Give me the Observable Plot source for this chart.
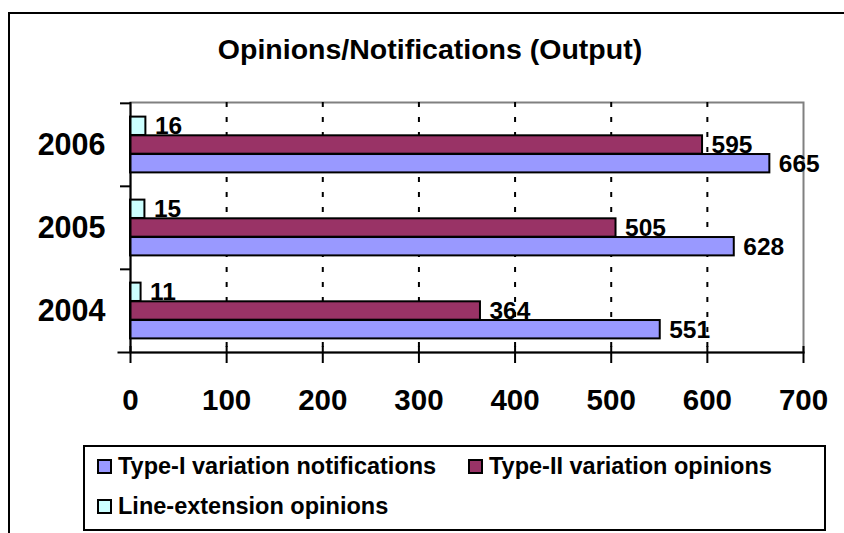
<!DOCTYPE html>
<html>
<head>
<meta charset="utf-8">
<script src="https://cdn.jsdelivr.net/npm/d3@7"></script>
<script src="https://cdn.jsdelivr.net/npm/@observablehq/plot@0.6"></script>
<style>
  html, body { margin: 0; padding: 0; background: #fff; }
  body { width: 844px; height: 533px; overflow: hidden; position: relative;
         font-family: "Liberation Sans", Arial, sans-serif; color: #000; }
  #outline { position: absolute; left: 8px; top: 12px; width: 900px; height: 600px;
             border: 2px solid #000; }
  #title { position: absolute; left: 0; width: 860px; top: 35px; text-align: center;
           font-weight: bold; font-size: 28.5px; line-height: 28.5px; }
  #chart { position: absolute; left: 0; top: 80px; }
  #legend { position: absolute; left: 83px; top: 445px; width: 743px; height: 86px;
            box-sizing: border-box; border: 2px solid #000; background: #fff; }
  .item { position: absolute; display: flex; align-items: center; font-weight: bold;
          font-size: 23.5px; line-height: 26px; white-space: nowrap; }
  .sw { width: 15px; height: 15px; box-sizing: border-box; border: 2px solid #000;
        margin-right: 6px; flex: none; }
</style>
</head>
<body>
<div id="outline"></div>
<div id="title">Opinions/Notifications (Output)</div>
<div id="chart"></div>
<div id="legend"></div>
<script>
// Output per year, one array per series
const years = ["2006", "2005", "2004"];
const seriesNames = [
  "Type-I variation notifications",
  "Type-II variation opinions",
  "Line-extension opinions"
];
const typeI = [665, 628, 551];
const typeII = [595, 505, 364];
const lineExt = [16, 15, 11];
const xTicks = [0, 100, 200, 300, 400, 500, 600, 700];
const seriesColors = ["#9999FF", "#993366", "#CCFFFF"];

const seriesValues = [typeI, typeII, lineExt];
const rows = [];
seriesNames.forEach((s, k) =>
  years.forEach((y, i) => rows.push({ year: y, series: s, value: seriesValues[k][i] }))
);

const W = 844, H = 350, mt = 22, mb = 78, ml = 130, mr = 41;
const band = (H - mt - mb) / years.length;

// position of each series inside its year band (top to bottom: line-ext, type-II, type-I)
const inner = d3.scaleBand()
  .domain([seriesNames[2], seriesNames[1], seriesNames[0]])
  .range([0, band])
  .paddingInner(0)
  .paddingOuter(0.727);

const barMarks = seriesNames.map(s =>
  Plot.barX(rows.filter(r => r.series === s), {
    x: "value", y: "year", fill: "series",
    stroke: "#000", strokeWidth: 2,
    insetTop: inner(s),
    insetBottom: band - inner(s) - inner.bandwidth()
  })
);

const labelMarks = seriesNames.map(s =>
  Plot.text(rows.filter(r => r.series === s), {
    x: "value", y: "year", text: d => String(d.value),
    dx: 9, dy: inner(s) + inner.bandwidth() / 2 - band / 2,
    textAnchor: "start", fontSize: 24.5, fontWeight: "bold", fill: "#000"
  })
);

const chart = Plot.plot({
  width: W, height: H,
  marginTop: mt, marginBottom: mb, marginLeft: ml, marginRight: mr,
  style: { background: "transparent", fontFamily: "Liberation Sans, Arial, sans-serif",
           color: "#000", overflow: "visible" },
  x: { domain: [0, 700], label: null },
  y: { domain: years, padding: 0, label: null },
  color: { domain: seriesNames, range: seriesColors },
  marks: [
    Plot.frame({ stroke: "#808080", strokeWidth: 2 }),
    Plot.gridX(xTicks.slice(1, -1), { stroke: "#000", strokeOpacity: 1, strokeWidth: 2,
                                      strokeDasharray: "5,10" }),
    ...barMarks,
    ...labelMarks,
    Plot.ruleX([0], { stroke: "#000", strokeWidth: 2 }),
    Plot.frame({ anchor: "bottom", insetLeft: -12, stroke: "#000", strokeWidth: 2 }),
    Plot.axisX(xTicks, { tickSize: 17, dy: -6, tickPadding: 25.4, fontSize: 29.5,
                         fontWeight: "bold", strokeWidth: 2 }),
    Plot.axisY({ tickSize: 10, dy: -band / 2, tickFormat: () => "", strokeWidth: 2 }),
    Plot.axisY({ tickSize: 0, tickPadding: 25, fontSize: 30.5, fontWeight: "bold" })
  ]
});
document.getElementById("chart").appendChild(chart);

// legend: two entries on the first row, one on the second
const legend = document.getElementById("legend");
const legendPos = [[12, 6], [383, 6], [12, 46]];
seriesNames.forEach((s, k) => {
  const item = document.createElement("div");
  item.className = "item";
  item.style.left = legendPos[k][0] + "px";
  item.style.top = legendPos[k][1] + "px";
  const sw = document.createElement("span");
  sw.className = "sw";
  sw.style.background = seriesColors[k];
  const label = document.createElement("span");
  label.textContent = s;
  item.appendChild(sw);
  item.appendChild(label);
  legend.appendChild(item);
});
</script>
</body>
</html>
